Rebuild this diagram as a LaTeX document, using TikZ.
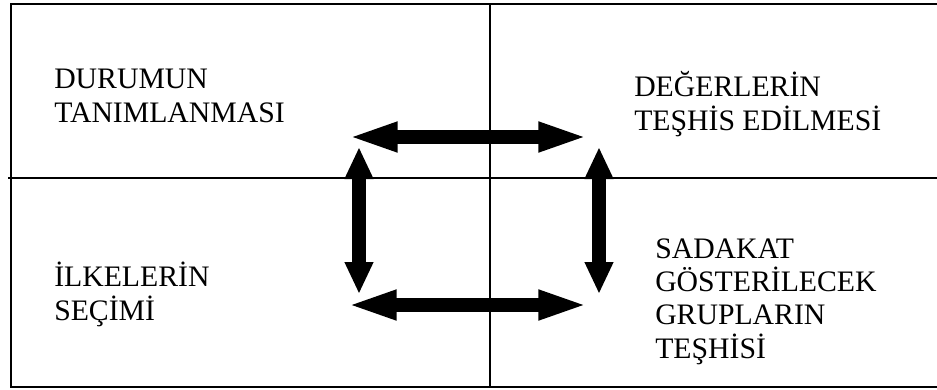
\documentclass[tikz,border=0pt]{standalone}
\usepackage{fontspec}
\setmainfont{Liberation Serif}
\usetikzlibrary{arrows.meta}

\begin{document}
\begin{tikzpicture}[x=0.75pt, y=-0.75pt,
    label/.style={anchor=base west, align=left, inner sep=0pt, font=\fontsize{22.3}{25}\selectfont},
    frame/.style={line width=1.5pt},
    divider/.style={line width=0.8pt},
    harrow/.style={line width=10pt, {Triangle[length=38pt, width=20pt]}-{Triangle[length=38pt, width=20pt]}},
    varrow/.style={line width=10.5pt, {Triangle[length=24pt, width=20pt]}-{Triangle[length=24pt, width=20pt]}}]
            \useasboundingbox (0,0) rectangle (937,389);

            % Frame
            \draw[frame] (937,4) -- (11,4) -- (11,387) -- (937,387);
            \draw[divider] (8,178) -- (937,178);
            \draw[divider] (490,4) -- (490,387);

            % Quadrant texts (anchored at the last line)
            \node[label] (durum) at (54,122) {DURUMUN\\TANIMLANMASI};
            \node[label] (deger) at (634,130) {DEĞERLERİN\\TEŞHİS EDİLMESİ};
            \node[label] (ilke) at (54,320) {İLKELERİN\\SEÇİMİ};
            \node[label] (sadakat) at (655,358) {SADAKAT\\GÖSTERİLECEK\\GRUPLARIN\\TEŞHİSİ};

            % Arrow ends
            \coordinate (topW) at (347,137);
            \coordinate (topE) at (589,137);
            \coordinate (botW) at (346,305);
            \coordinate (botE) at (589,305);
            \coordinate (leftN) at (359,147);
            \coordinate (leftS) at (359,294);
            \coordinate (rightN) at (599,147);
            \coordinate (rightS) at (599,294);

            % Arrows
            \draw[harrow] (topW) -- (topE);
            \draw[harrow] (botW) -- (botE);
            \draw[varrow] (leftN) -- (leftS);
            \draw[varrow] (rightN) -- (rightS);
\end{tikzpicture}
\end{document}
